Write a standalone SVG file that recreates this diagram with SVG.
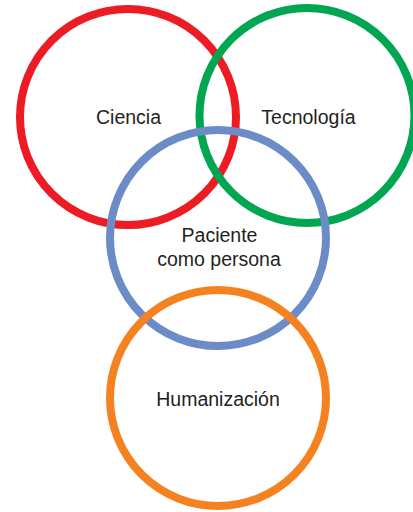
<svg xmlns="http://www.w3.org/2000/svg" width="413" height="512" viewBox="0 0 413 512">
<style>
.ring{fill:none;stroke-width:8}
.lbl{font-family:"Liberation Sans",Arial,Helvetica,sans-serif;font-size:19.5px;fill:#231f20;text-anchor:middle}
</style>
<rect width="413" height="512" fill="#ffffff"/>
<g id="ciencia">
<circle class="ring" cx="128" cy="117" r="108" stroke="#ed1c24"/>
<text class="lbl" x="128.5" y="124">Ciencia</text>
</g>
<g id="tecnologia">
<circle class="ring" cx="307" cy="115.5" r="107.5" stroke="#00a651"/>
<text class="lbl" x="308.5" y="124">Tecnología</text>
</g>
<g id="paciente">
<circle class="ring" cx="218" cy="238" r="108" stroke="#6c8cc7"/>
<text class="lbl" x="219.5" y="241.5">Paciente</text>
<text class="lbl" x="219" y="266">como persona</text>
</g>
<g id="humanizacion">
<circle class="ring" cx="218" cy="398" r="108" stroke="#f58220"/>
<text class="lbl" x="218" y="405.5">Humanización</text>
</g>
<g id="connectors"/>
</svg>
